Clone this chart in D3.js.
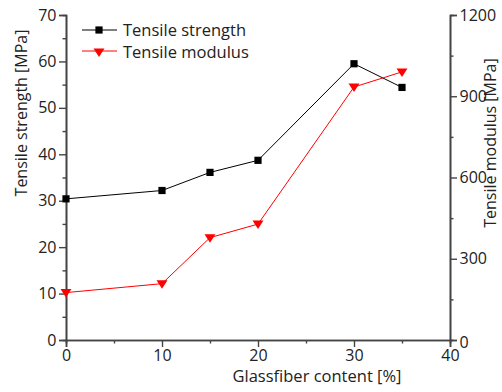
<!DOCTYPE html>
<html>
<head>
<meta charset="utf-8">
<script src="https://cdn.jsdelivr.net/npm/d3@7"></script>
<style>
  body { margin: 0; background: #fff; }
  text { font-family: "Open Sans", "DejaVu Sans", sans-serif; fill: #222; }
</style>
</head>
<body>
<div id="graph"></div>
<script>
//chart data
var content = [0, 10, 15, 20, 30, 35];
var strength = [30.4, 32.2, 36.1, 38.7, 59.5, 54.4];
var modulus = [175, 208, 378, 428, 934, 990];
var xTicks = [0, 10, 20, 30, 40];
var leftTicks = [0, 10, 20, 30, 40, 50, 60, 70];
var rightTicks = [0, 300, 600, 900, 1200];

const width = 502, height = 392;
const margin = {top: 15, right: 52, bottom: 52, left: 66};

const svg = d3.select("#graph").append("svg")
    .attr("width", width)
    .attr("height", height);

const x = d3.scaleLinear().domain([0, 40]).range([margin.left, width - margin.right]);
const yL = d3.scaleLinear().domain([0, 70]).range([height - margin.bottom, margin.top]);
const yR = d3.scaleLinear().domain([0, 1200]).range([height - margin.bottom, margin.top]);

const axisColor = "#444";

//draw an axis with major + minor ticks
function drawAxis(g, axisFn, scale, majors, minors) {
    g.call(axisFn(scale).tickValues(minors).tickSize(3.5).tickFormat(""));
    const major = g.append("g");
    major.call(axisFn(scale).tickValues(majors).tickSize(7).tickPadding(2.5).tickFormat(d3.format("d")));
    g.selectAll("path.domain").attr("stroke", axisColor).attr("stroke-width", 1.6);
    g.selectAll("line").attr("stroke", axisColor).attr("stroke-width", 1.4);
    g.selectAll("text").attr("font-size", 16).attr("fill", "#222")
        .attr("font-family", "'Open Sans', sans-serif");
}

const gx = svg.append("g").attr("transform", "translate(0," + (height - margin.bottom) + ")");
drawAxis(gx, d3.axisBottom, x, xTicks, [5, 15, 25, 35]);

const gl = svg.append("g").attr("transform", "translate(" + margin.left + ",0)");
drawAxis(gl, d3.axisLeft, yL, leftTicks, [5, 15, 25, 35, 45, 55, 65]);

const gr = svg.append("g").attr("transform", "translate(" + (width - margin.right) + ",0)");
drawAxis(gr, d3.axisRight, yR, rightTicks, [150, 450, 750, 1050]);
//right "0" sits a little low, like the reference
gr.selectAll("text").filter(function(d){ return d === 0; }).attr("dy", "0.45em");

//axis titles
svg.append("text")
    .attr("x", 317).attr("y", 382)
    .attr("text-anchor", "middle")
    .attr("font-size", 16.5)
    .text("Glassfiber content [%]");

svg.append("text")
    .attr("transform", "translate(27,113) rotate(-90)")
    .attr("text-anchor", "middle")
    .attr("font-size", 16)
    .text("Tensile strength [MPa]");

svg.append("text")
    .attr("transform", "translate(496,143) rotate(-90)")
    .attr("text-anchor", "middle")
    .attr("font-size", 16)
    .text("Tensile modulus [MPa]");

//series lines
const lineL = d3.line().x(function(d, i){ return x(content[i]); }).y(function(d){ return yL(d); });
const lineR = d3.line().x(function(d, i){ return x(content[i]); }).y(function(d){ return yR(d); });

svg.append("path").attr("d", lineL(strength))
    .attr("fill", "none").attr("stroke", "#000").attr("stroke-width", 1);
svg.append("path").attr("d", lineR(modulus))
    .attr("fill", "none").attr("stroke", "#ff0000").attr("stroke-width", 1);

//markers
const sq = d3.symbol().type(d3.symbolSquare).size(52);
const tri = function(cx, cy) {
    return "M" + (cx - 5.5) + "," + (cy - 3.5) + " L" + (cx + 5.5) + "," + (cy - 3.5) +
        " L" + cx + "," + (cy + 5) + " Z";
};

svg.append("g").selectAll("path")
    .data(strength)
    .enter().append("path")
    .attr("d", sq)
    .attr("transform", function(d, i){ return "translate(" + x(content[i]) + "," + yL(d) + ")"; })
    .attr("fill", "#000");

svg.append("g").selectAll("path")
    .data(modulus)
    .enter().append("path")
    .attr("d", function(d, i){ return tri(x(content[i]), yR(d)); })
    .attr("fill", "#ff0000");

//legend
const leg = svg.append("g");
leg.append("line").attr("x1", 82).attr("x2", 117).attr("y1", 30).attr("y2", 30)
    .attr("stroke", "#000").attr("stroke-width", 1);
leg.append("path").attr("d", sq).attr("transform", "translate(99,30)").attr("fill", "#000");
leg.append("text").attr("x", 123).attr("y", 36).attr("font-size", 16.5).text("Tensile strength");

leg.append("line").attr("x1", 82).attr("x2", 117).attr("y1", 51).attr("y2", 51)
    .attr("stroke", "#ff0000").attr("stroke-width", 1);
leg.append("path").attr("d", tri(99, 52)).attr("fill", "#ff0000");
leg.append("text").attr("x", 123).attr("y", 58).attr("font-size", 16.5).text("Tensile modulus");
</script>
</body>
</html>
